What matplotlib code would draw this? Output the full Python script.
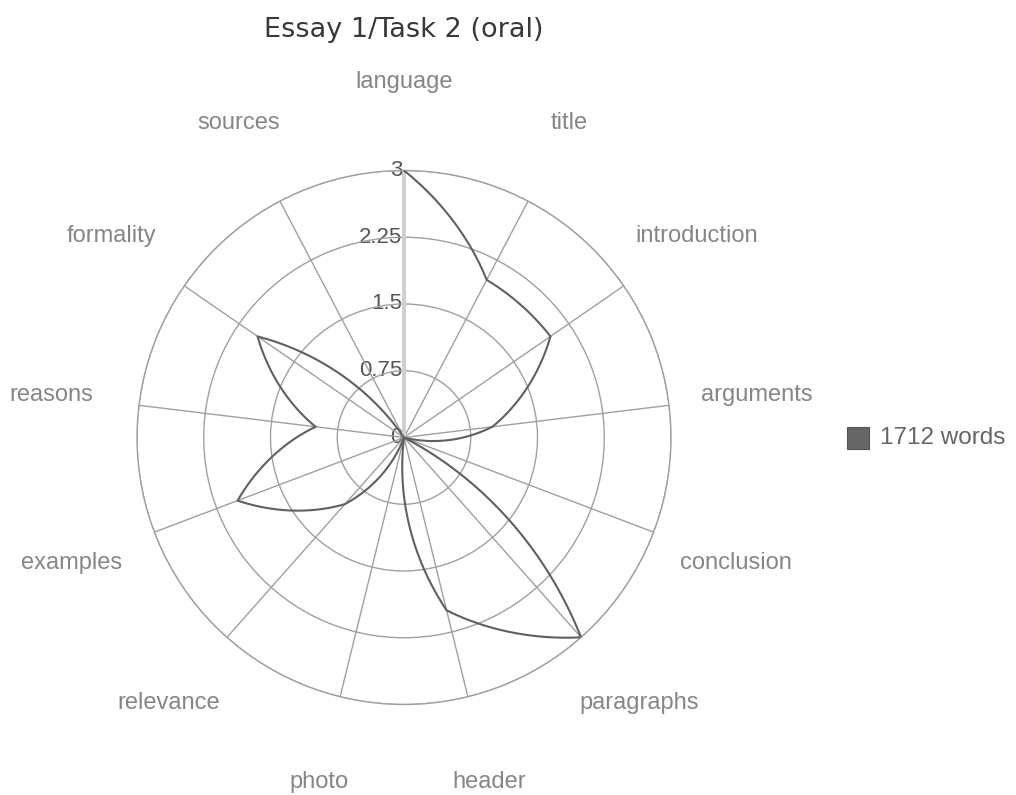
import numpy as np
import matplotlib
matplotlib.use("Agg")
import matplotlib.pyplot as plt
from matplotlib.patches import Rectangle

# data
categories = ["language", "title", "introduction", "arguments", "conclusion",
              "paragraphs", "header", "photo", "relevance", "examples",
              "reasons", "formality", "sources"]
scores = [3, 2, 2, 1, 0, 3, 2, 0, 1, 2, 1, 2, 0]
ring_values = [0.75, 1.5, 2.25, 3]
ring_labels = ["0.75", "1.5", "2.25", "3"]
series_name = "1712 words"
title = "Essay 1/Task 2 (oral)"

W, H = 1016, 795
GRID = "#a0a0a0"
LINE = "#606060"


def soft_path(theta, r, blend=0.75, steps=40):
    """curved segments between the points: mix of chord and polar arc"""
    xs, ys = [], []
    for i in range(len(theta) - 1):
        t = np.linspace(0, 1, steps, endpoint=False)
        th = theta[i] + t * (theta[i + 1] - theta[i])
        rr = r[i] + t * (r[i + 1] - r[i])
        sx, sy = rr * np.sin(th), rr * np.cos(th)
        x0, y0 = r[i] * np.sin(theta[i]), r[i] * np.cos(theta[i])
        x1, y1 = r[i + 1] * np.sin(theta[i + 1]), r[i + 1] * np.cos(theta[i + 1])
        cx, cy = x0 + t * (x1 - x0), y0 + t * (y1 - y0)
        xs.append((1 - blend) * cx + blend * sx)
        ys.append((1 - blend) * cy + blend * sy)
    xs.append([r[-1] * np.sin(theta[-1])])
    ys.append([r[-1] * np.cos(theta[-1])])
    x = np.concatenate(xs)
    y = np.concatenate(ys)
    return np.mod(np.arctan2(x, y), 2 * np.pi), np.hypot(x, y)


n = len(categories)
angles = np.arange(n) * 2 * np.pi / n

fig = plt.figure(figsize=(W / 100, H / 100), dpi=100)
ax = fig.add_axes([137 / W, (H - 704.5) / H, 534 / W, 534 / H], projection="polar")
ax.set_theta_zero_location("N")
ax.set_theta_direction(-1)
ax.set_ylim(0, 3)

ax.set_thetagrids(np.degrees(angles), labels=[""] * n)
ax.set_rgrids(ring_values, labels=[""] * len(ring_values))
ax.grid(color=GRID, lw=1.0)
ax.spines["polar"].set_color(GRID)
ax.spines["polar"].set_linewidth(1.0)
ax.tick_params(length=0)

# vertical value axis
ax.plot([0, 0], [0, 3], color="#d0d0d0", lw=2.8, zorder=2, solid_capstyle="butt")

th, rr = soft_path(angles, np.array(scores, dtype=float))
ax.plot(th, rr, color=LINE, lw=1.5, zorder=3)

# value labels along the vertical axis
for v, lbl in zip([0] + ring_values, ["0"] + ring_labels):
    ax.annotate(lbl, xy=(0, v), xytext=(-1, 0), textcoords="offset points",
                ha="right", va="center", fontsize=16, color="#555555",
                family="Liberation Sans", zorder=1)

# category labels
for a, c in zip(angles, categories):
    ax.text(a, 3.99, c, ha="center", va="center", fontsize=17, color="#868686",
            family="Liberation Sans", clip_on=False)

fig.text(404 / W, 1 - 37 / H, title, ha="center", va="baseline",
         fontsize=19.5, color="#383838", family="DejaVu Sans")

# legend
fig.patches.append(Rectangle((847 / W, 1 - 449 / H), 22 / W, 22 / H,
                             transform=fig.transFigure, facecolor="#666666",
                             edgecolor="#555555", lw=0.8))
fig.text(880 / W, 1 - 438 / H, series_name, ha="left", va="center",
         fontsize=17.5, color="#666666", family="Liberation Sans")

fig.savefig("out.png", dpi=100)
